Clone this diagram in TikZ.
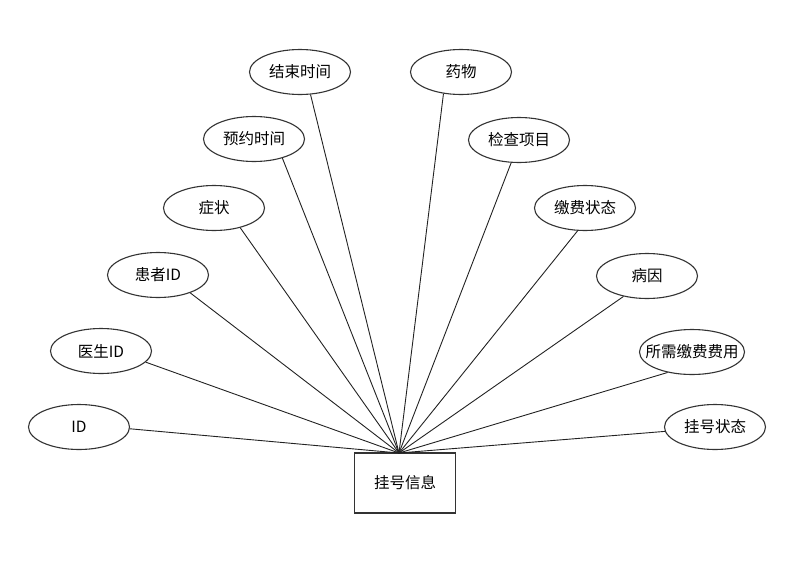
\documentclass[tikz,border=0pt]{standalone}
\usepackage{fontspec}
\usepackage{xcolor}
\usepackage{tikz}
\usetikzlibrary{shapes.geometric}
\newfontfamily\cjk{Noto Sans CJK SC}
\definecolor{edgegray}{HTML}{333333}
\definecolor{linkblack}{HTML}{222222}
\tikzset{
  attr/.style={ellipse,draw=edgegray,fill=white,line width=1.1pt,minimum width=101pt,minimum height=45pt,inner sep=0pt,font=\cjk\fontsize{15.5}{18}\selectfont},
  entity/.style={rectangle,draw=edgegray,fill=white,line width=1.1pt,minimum width=101pt,minimum height=60pt,font=\cjk\fontsize{15.5}{18}\selectfont},
  link/.style={draw=linkblack,line width=0.9pt}
}
\begin{document}
\begin{tikzpicture}[x=1pt,y=-1pt]
  \useasboundingbox (0,0) rectangle (790,568);
  \node[entity] (reg) at (405,483) {挂号信息};
  \coordinate (hub) at (399,453);
  \node[attr] (id) at (79,427) {ID};
  \node[attr] (doc) at (101,351) {医生ID};
  \node[attr] (pat) at (158,275) {患者ID};
  \node[attr] (sym) at (214,208) {症状};
  \node[attr] (book) at (254,139) {预约时间};
  \node[attr] (end) at (300,72) {结束时间};
  \node[attr] (drug) at (461,72) {药物};
  \node[attr] (exam) at (519,140) {检查项目};
  \node[attr] (pay) at (585,208) {缴费状态};
  \node[attr] (cause) at (647,276) {病因};
  \node[attr,minimum width=105pt,inner xsep=-9.5pt] (fee) at (692,352) {所需缴费费用};
  \node[attr] (state) at (715,427) {挂号状态};
  % connectors leave each ellipse at a fixed border angle
  \foreach \n/\a in {id/358,doc/346,pat/331,sym/323,book/326,end/295,
                     drug/231,exam/251,pay/252,cause/221,fee/220,state/185}
    \draw[link] (\n.\a) -- (hub);
\end{tikzpicture}
\end{document}
